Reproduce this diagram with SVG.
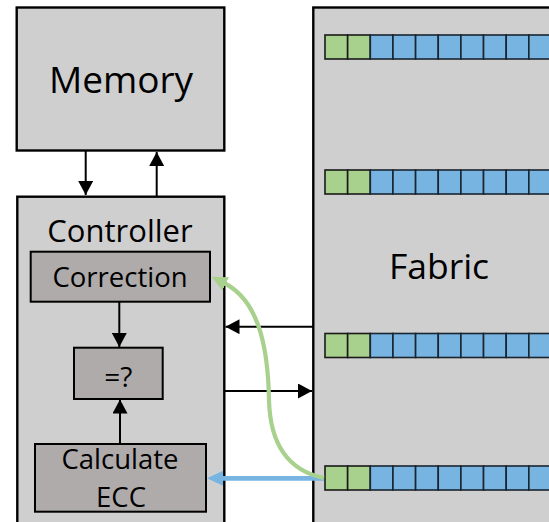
<svg xmlns="http://www.w3.org/2000/svg" width="549" height="522" viewBox="0 0 549 522">
<defs>
<style>
.big{fill:#d0cfcf;stroke:#000;stroke-width:2.4}
.inner{fill:#afabab;stroke:#000;stroke-width:2}
.t{font-family:"Open Sans","Noto Sans","Liberation Sans",sans-serif;fill:#000;text-anchor:middle}
.g{fill:#a9d18e;stroke:#1a1a1a;stroke-width:1.6}
.b{fill:#78b4e2;stroke:#1a2530;stroke-width:1.6}
.ln{stroke:#000;stroke-width:2;fill:none}
</style>
<marker id="ah" markerUnits="userSpaceOnUse" viewBox="0 0 14 15" refX="14" refY="7.5" markerWidth="14" markerHeight="15" orient="auto">
<path d="M0,0 L14,7.5 L0,15 z" fill="#000"/>
</marker>
<marker id="ahb" markerUnits="userSpaceOnUse" viewBox="0 0 16 15" refX="2" refY="7.5" markerWidth="16" markerHeight="15" orient="auto">
<path d="M0,0 L16,7.5 L0,15 z" fill="#78b4e2"/>
</marker>
<marker id="ahg" markerUnits="userSpaceOnUse" viewBox="0 0 16 15" refX="2" refY="7.5" markerWidth="16" markerHeight="15" orient="auto">
<path d="M0,0 L16,7.5 L0,15 z" fill="#a9d18e"/>
</marker>
<g id="row">
<rect class="g" x="325" y="0" width="22.65" height="24"/>
<rect class="g" x="347.65" y="0" width="22.65" height="24"/>
<rect class="b" x="370.3" y="0" width="22.65" height="24"/>
<rect class="b" x="392.95" y="0" width="22.65" height="24"/>
<rect class="b" x="415.6" y="0" width="22.65" height="24"/>
<rect class="b" x="438.25" y="0" width="22.65" height="24"/>
<rect class="b" x="460.9" y="0" width="22.65" height="24"/>
<rect class="b" x="483.55" y="0" width="22.65" height="24"/>
<rect class="b" x="506.2" y="0" width="22.65" height="24"/>
<rect class="b" x="528.85" y="0" width="22.65" height="24"/>
</g>
</defs>
<rect width="549" height="522" fill="#fff"/>
<g id="memory">
<rect class="big" x="16.7" y="7.5" width="207.6" height="143"/>
<text class="t" x="121" y="93.3" font-size="37">Memory</text>
</g>
<g id="fabric">
<rect class="big" x="313.3" y="7.5" width="250" height="530"/>
<use href="#row" y="35"/>
<use href="#row" y="170"/>
<use href="#row" y="333.5"/>
<use href="#row" y="466"/>
<text class="t" x="439" y="279.3" font-size="35.5">Fabric</text>
</g>
<g id="controller">
<rect class="big" x="17.3" y="196.7" width="207" height="340"/>
<text class="t" x="120" y="241.7" font-size="31">Controller</text>
</g>
<g id="correction">
<rect class="inner" x="30.7" y="251.7" width="179.3" height="50"/>
<text class="t" x="120" y="287.3" font-size="27.5">Correction</text>
</g>
<g id="compare">
<rect class="inner" x="74" y="347.7" width="88.7" height="51.3"/>
<text class="t" x="118.4" y="386.7" font-size="28">=?</text>
</g>
<g id="calcecc">
<rect class="inner" x="35" y="444" width="171" height="67.7"/>
<text class="t" x="120" y="469.3" font-size="27.5">Calculate</text>
<text class="t" x="121" y="506.7" font-size="27.5">ECC</text>
</g>
<g id="connectors">
<line class="ln" x1="85.7" y1="151" x2="85.7" y2="195" marker-end="url(#ah)"/>
<line class="ln" x1="156.7" y1="196" x2="156.7" y2="152" marker-end="url(#ah)"/>
<line class="ln" x1="119.3" y1="302" x2="119.3" y2="347" marker-end="url(#ah)"/>
<line class="ln" x1="120" y1="444" x2="120" y2="399.5" marker-end="url(#ah)"/>
<line class="ln" x1="313" y1="326.7" x2="225.5" y2="326.7" marker-end="url(#ah)"/>
<line class="ln" x1="225" y1="391" x2="312" y2="391" marker-end="url(#ah)"/>
<line x1="324" y1="478.3" x2="221" y2="478.3" stroke="#78b4e2" stroke-width="4.7" marker-end="url(#ahb)"/>
<path d="M324,478 C285,470 270,440 269,400 C268,345 258,300 224,283" fill="none" stroke="#a9d18e" stroke-width="4.2" marker-end="url(#ahg)"/>
</g>
</svg>
